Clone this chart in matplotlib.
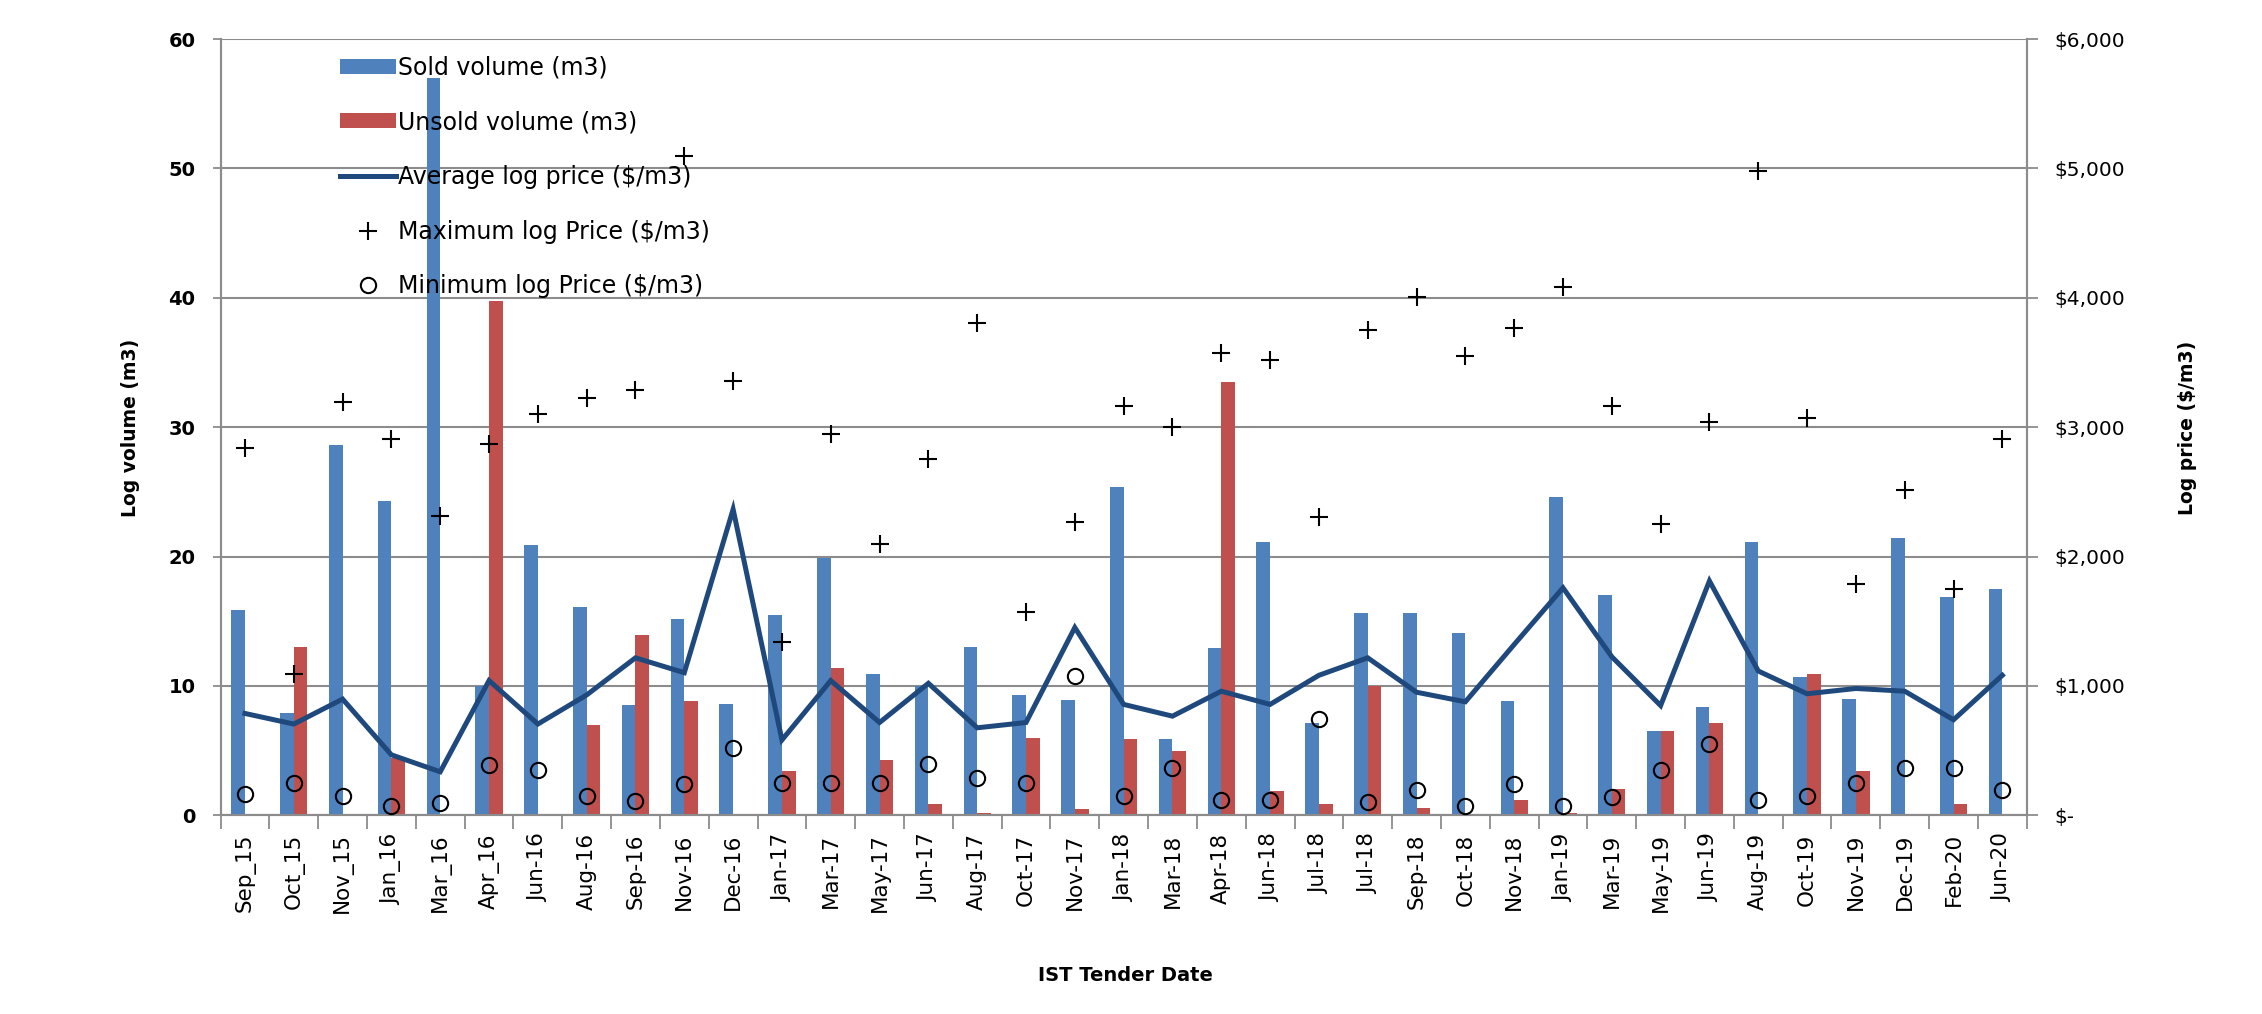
import matplotlib
matplotlib.use("Agg")
import matplotlib.pyplot as plt
import numpy as np
from matplotlib.ticker import FuncFormatter, FixedLocator, NullFormatter
from matplotlib.patches import Patch
from matplotlib.lines import Line2D

categories = ["Sep_15", "Oct_15", "Nov_15", "Jan_16", "Mar_16", "Apr_16", "Jun-16", "Aug-16",
              "Sep-16", "Nov-16", "Dec-16", "Jan-17", "Mar-17", "May-17", "Jun-17", "Aug-17",
              "Oct-17", "Nov-17", "Jan-18", "Mar-18", "Apr-18", "Jun-18", "Jul-18", "Jul-18",
              "Sep-18", "Oct-18", "Nov-18", "Jan-19", "Mar-19", "May-19", "Jun-19", "Aug-19",
              "Oct-19", "Nov-19", "Dec-19", "Feb-20", "Jun-20"]

sold_volume = [15.9, 7.9, 28.6, 24.3, 57.0, 10.0, 20.9, 16.1, 8.5, 15.2, 8.6, 15.5, 19.9, 10.9,
               10.0, 13.0, 9.3, 8.9, 25.4, 5.9, 12.9, 21.1, 7.1, 15.6, 15.6, 14.1, 8.8, 24.6,
               17.0, 6.5, 8.4, 21.1, 10.7, 9.0, 21.4, 16.9, 17.5]

unsold_volume = [0, 13.0, 0, 4.4, 0, 39.75, 0, 7.0, 13.9, 8.8, 0, 3.4, 11.4, 4.3, 0.9, 0.16,
                 6.0, 0.45, 5.9, 5.0, 33.5, 1.9, 0.9, 10.0, 0.57, 0, 1.2, 0.16, 2.0, 6.5, 7.1,
                 0, 10.9, 3.4, 0, 0.9, 0]

avg_price = [787, 705, 898, 467, 336, 1041, 705, 930, 1217, 1102, 2365, 582, 1041, 717, 1020,
             676, 717, 1451, 857, 766, 959, 857, 1082, 1217, 951, 877, 1320, 1758, 1225, 848,
             1811, 1115, 939, 980, 959, 738, 1082]

max_price = [2836, 1094, 3197, 2906, 2316, 2873, 3102, 3225, 3287, 5098, 3357, 1340, 2947, 2098,
             2750, 3803, 1574, 2270, 3164, 3000, 3570, 3520, 2303, 3754, 4004, 3549, 3766, 4086,
             3164, 2250, 3041, 4980, 3070, 1791, 2516, 1750, 2906]

min_price = [164, 246, 152, 70, 98, 389, 348, 152, 111, 242, 520, 246, 246, 246, 398, 287, 246,
             1074, 152, 369, 119, 119, 746, 102, 193, 70, 242, 70, 143, 348, 549, 119, 152, 246,
             365, 365, 193]

left_ticks = [0, 10, 20, 30, 40, 50, 60]
right_ticks = [0, 1000, 2000, 3000, 4000, 5000, 6000]

BLUE = "#4F81BD"
RED = "#C0504D"
NAVY = "#1F497D"
GRID = "#8C8C8C"

fig = plt.figure(figsize=(22.62, 10.14), dpi=100)
ax = fig.add_axes([0.0975, 0.196, 0.7985, 0.7655])
ax2 = ax.twinx()

n = len(categories)
x = np.arange(n)
w = 0.28
ax.bar(x - w / 2, sold_volume, width=w, color=BLUE, zorder=3)
ax.bar(x + w / 2, unsold_volume, width=w, color=RED, zorder=3)

ax2.plot(x, avg_price, color=NAVY, lw=3.6, zorder=4, solid_joinstyle="miter")
ax2.plot(x, max_price, linestyle="none", marker="+", ms=13, mew=1.5, color="black", zorder=5)
ax2.plot(x, min_price, linestyle="none", marker="o", ms=11, mew=1.5, mfc="none",
         mec="black", zorder=5)

ax.set_xlim(-0.5, n - 0.5)
ax.set_ylim(0, 60)
ax2.set_ylim(0, 6000)

ax.set_yticks(left_ticks)
ax2.set_yticks(right_ticks)
ax.yaxis.grid(True, color=GRID, lw=1.5, zorder=0)
ax.set_axisbelow(True)

# x ticks: marks at boundaries, labels at centers
ax.xaxis.set_major_locator(FixedLocator(np.arange(-0.5, n, 1.0)))
ax.xaxis.set_major_formatter(NullFormatter())
ax.xaxis.set_minor_locator(FixedLocator(x))
ax.set_xticklabels(categories, minor=True, rotation=90, fontsize=15.5,
                   family="DejaVu Sans")
ax.tick_params(axis="x", which="major", length=10, width=1.3, color=GRID, direction="out")
ax.tick_params(axis="x", which="minor", length=0, pad=13)

ax.tick_params(axis="y", length=6, width=1.3, color=GRID, pad=12, labelsize=14)
for lab in ax.get_yticklabels():
    lab.set_fontweight("bold")
ax2.tick_params(axis="y", length=8, width=1.3, color=GRID, pad=12, labelsize=14.5)
ax2.yaxis.set_major_formatter(FuncFormatter(lambda v, p: "$-" if v == 0 else "${:,.0f}".format(v)))

for a in (ax, ax2):
    a.spines["top"].set_visible(False)
    for s in ("left", "right", "bottom"):
        a.spines[s].set_color(GRID)
        a.spines[s].set_linewidth(1.5)

fig.text(0.0575, 0.578, "Log volume (m3)", rotation=90, ha="center", va="center",
         fontsize=13.5, fontweight="bold")
fig.text(0.967, 0.578, "Log price ($/m3)", rotation=90, ha="center", va="center",
         fontsize=13.5, fontweight="bold")
fig.text(0.4975, 0.038, "IST Tender Date", ha="center", va="center",
         fontsize=14, fontweight="bold")

handles = [
    Patch(facecolor=BLUE, edgecolor="none"),
    Patch(facecolor=RED, edgecolor="none"),
    Line2D([], [], color=NAVY, lw=3.6),
    Line2D([], [], linestyle="none", marker="+", ms=13, mew=1.5, color="black"),
    Line2D([], [], linestyle="none", marker="o", ms=11, mew=1.5, mfc="none", mec="black"),
]
labels = ["Sold volume (m3)", "Unsold volume (m3)", "Average log price ($/m3)",
          "Maximum log Price ($/m3)", "Minimum log Price ($/m3)"]
leg = ax2.legend(handles, labels, loc="upper left", bbox_to_anchor=(0.057, 1.0),
                 frameon=False, fontsize=17, handlelength=2.35, handleheight=0.6,
                 labelspacing=1.3, handletextpad=0.1, borderaxespad=0.3)
leg.set_zorder(10)

fig.savefig("out.png", dpi=100)
